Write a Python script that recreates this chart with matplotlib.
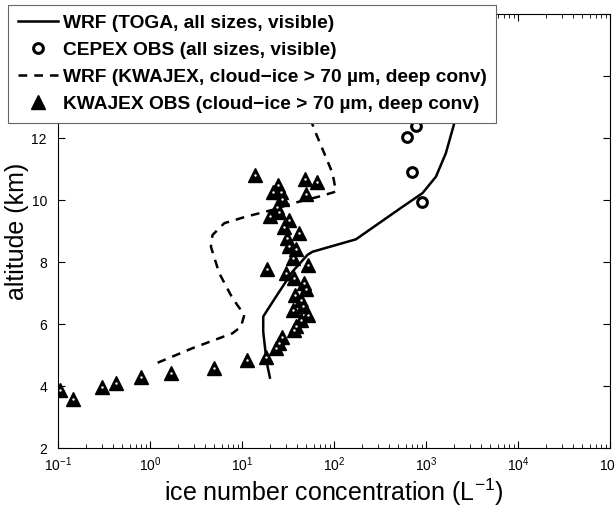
import numpy as np
import matplotlib
matplotlib.use("Agg")
import matplotlib.pyplot as plt
from matplotlib.ticker import LogLocator

plt.rcParams['font.family'] = ['Liberation Sans', 'DejaVu Sans']
plt.rcParams['mathtext.default'] = 'regular'

# WRF (TOGA, all sizes, visible)
toga_x = [20.1, 18.5, 17.0, 17.0, 23.4, 35.4, 51.5, 58.4, 173, 556, 916, 1282, 1644, 2027, 2300, 2950]
toga_y = [4.28, 4.79, 5.76, 6.25, 6.89, 7.70, 8.24, 8.34, 8.74, 9.79, 10.23, 10.76, 11.52, 12.48, 13.02, 14.0]

# CEPEX OBS
cepex_x = [777, 614, 713, 902]
cepex_y = [12.40, 12.03, 10.92, 9.94]

# WRF (KWAJEX, cloud-ice > 70um, deep conv)
kwa_x = [1.21, 2.90, 7.88, 9.73, 10.6, 7.88, 5.65, 4.59, 4.78, 6.41, 11.0, 21.5, 35.4, 69.0,
         105, 96.4, 78.2, 63.5, 51.5, 41.8]
kwa_y = [4.76, 5.23, 5.71, 5.92, 6.30, 6.84, 7.65, 8.50, 8.88, 9.26, 9.47, 9.69, 9.90, 10.12,
         10.28, 10.87, 11.52, 12.16, 12.86, 13.7]

# KWAJEX OBS
obs_x = [13.8, 48.6, 65.2, 24.7, 21.5, 50.2, 26.5, 27.1, 24.3, 25.3, 20.1, 32.6, 28.8, 41.9,
         30.8, 32.6, 38.5, 35.4, 51.5, 18.9, 30.0, 36.9, 47.4, 49.3, 37.9, 43.7, 45.5, 35.4,
         51.5, 43.7, 39.1, 37.0, 27.1, 25.3, 23.4, 18.2, 11.3, 4.95, 1.69, 0.80, 0.43, 0.30,
         0.144, 0.105]
obs_y = [10.82, 10.68, 10.58, 10.49, 10.28, 10.19, 10.28, 10.03, 9.79, 9.63, 9.49, 9.36, 9.13,
         8.94, 8.77, 8.53, 8.42, 8.13, 7.91, 7.77, 7.65, 7.48, 7.34, 7.14, 6.95, 6.78, 6.59,
         6.46, 6.30, 6.14, 5.95, 5.82, 5.60, 5.41, 5.23, 4.96, 4.85, 4.58, 4.42, 4.31, 4.12,
         3.99, 3.60, 3.88]

fig = plt.figure(figsize=(6.14, 5.08), dpi=100)
ax = fig.add_axes([0.0945, 0.1175, 0.899, 0.8545])

ax.plot(toga_x, toga_y, 'k-', lw=1.8, label='WRF (TOGA, all sizes, visible)')
ax.plot(cepex_x, cepex_y, 'o', ls='none', mfc='white', mec='k', mew=2.2, ms=7,
        label='CEPEX OBS (all sizes, visible)')
ax.plot(kwa_x, kwa_y, 'k--', lw=1.8, dashes=(3.5, 2.8),
        label='WRF (KWAJEX, cloud\u2212ice > 70 \u00b5m, deep conv)')
ax.plot(obs_x, obs_y, '^', ls='none', color='k', ms=10,
        label='KWAJEX OBS (cloud\u2212ice > 70 \u00b5m, deep conv)')
ax.plot(obs_x, obs_y, '.', ls='none', color='white', ms=1.5)

ax.set_xscale('log')
ax.set_xlim(1e-1, 1e5)
ax.set_ylim(2, 16)
ax.set_yticks([2, 4, 6, 8, 10, 12, 14, 16])
ax.xaxis.set_major_locator(LogLocator(base=10, numticks=10))
ax.xaxis.set_minor_locator(LogLocator(base=10, subs=np.arange(2, 10), numticks=20))
ax.tick_params(which='both', direction='in', top=True, right=True, labelsize=10)
ax.tick_params(which='major', length=5)
ax.tick_params(which='minor', length=3)
ax.tick_params(axis='x', pad=5)
ax.tick_params(axis='y', pad=8)
for s in ax.spines.values():
    s.set_linewidth(0.8)

ax.set_xlabel('ice number concentration (L$^{-1}$)', fontsize=18, labelpad=2)
ax.set_ylabel('altitude (km)', fontsize=18, labelpad=2)

leg = fig.legend(loc='upper left', bbox_to_anchor=(0.013, 0.99),
                 prop={'weight': 'bold', 'size': 13.8}, frameon=True, fancybox=False,
                 handlelength=2.1, handletextpad=0.25, borderpad=0.5, labelspacing=0.5,
                 borderaxespad=0)
leg.get_frame().set_edgecolor('0.4')
leg.get_frame().set_linewidth(0.8)
leg.get_frame().set_alpha(1)

fig.savefig('out.png', dpi=100)
